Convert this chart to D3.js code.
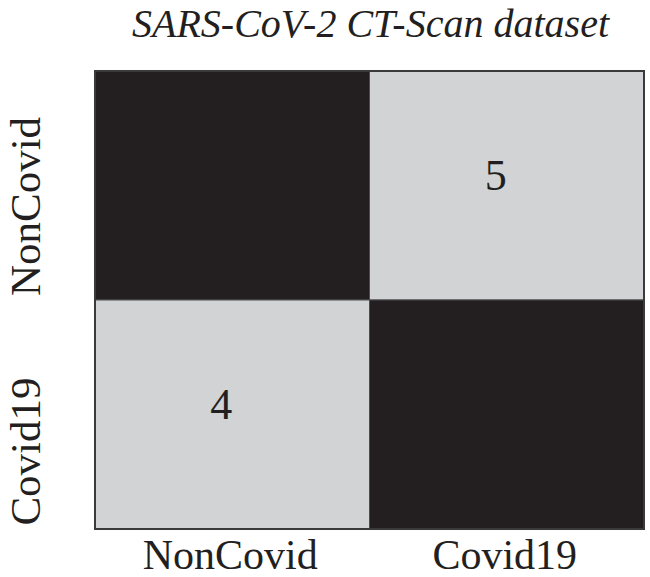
<!DOCTYPE html>
<html>
<head>
<meta charset="utf-8">
<script src="https://cdn.jsdelivr.net/npm/d3@7"></script>
<style>
    body { margin: 0; background: #fff; }
</style>
</head>
<body>
<div id="wrapper"></div>
<script>
    // data
    const classes = ["NonCovid", "Covid19"]
    const actual = ["NonCovid", "NonCovid", "Covid19", "Covid19"]
    const predicted = ["NonCovid", "Covid19", "NonCovid", "Covid19"]
    const counts = [241, 5, 4, 247]
    const title = "SARS-CoV-2 CT-Scan dataset"

    const cells = counts.map((c, i) => ({ actual: actual[i], predicted: predicted[i], count: c }))

    const font = "'Liberation Serif', 'Times New Roman', Times, serif"

    // chart dimensions
    let dimensions = {
        width: 650,
        height: 577,
        margin: { top: 71, right: 6, bottom: 48, left: 95 }
    }
    dimensions.boundedWidth = dimensions.width - dimensions.margin.left - dimensions.margin.right
    dimensions.boundedHeight = dimensions.height - dimensions.margin.top - dimensions.margin.bottom

    const svg = d3.select("#wrapper")
        .append("svg")
        .attr("width", dimensions.width)
        .attr("height", dimensions.height)
        .attr("font-family", font)

    const bounds = svg.append("g")
        .attr("transform", `translate(${dimensions.margin.left},${dimensions.margin.top})`)

    // scales
    const xScale = d3.scaleBand()
        .domain(classes)
        .range([0, dimensions.boundedWidth])

    const yScale = d3.scaleBand()
        .domain(classes)
        .range([0, dimensions.boundedHeight])

    const colorScale = d3.scaleQuantize()
        .domain([d3.min(counts), d3.max(counts)])
        .range(["#d1d3d4", "#231f20"])

    // cells
    bounds.selectAll("rect.cell")
        .data(cells)
        .enter().append("rect")
        .attr("class", "cell")
        .attr("x", d => xScale(d.predicted))
        .attr("y", d => yScale(d.actual))
        .attr("width", xScale.bandwidth())
        .attr("height", yScale.bandwidth())
        .attr("fill", d => colorScale(d.count))
        .attr("stroke", "#4d4d4f")
        .attr("stroke-width", 1)

    // counts (black text, so it disappears on the dark diagonal like the original)
    bounds.selectAll("text.value")
        .data(cells)
        .enter().append("text")
        .attr("class", "value")
        .attr("x", d => xScale(d.predicted) + xScale.bandwidth() / 2 - 11)
        .attr("y", d => yScale(d.actual) + yScale.bandwidth() / 2 - 10)
        .attr("text-anchor", "middle")
        .attr("dominant-baseline", "central")
        .attr("fill", "#231f20")
        .style("font-size", "44px")
        .text(d => d.count)

    // frame
    bounds.append("rect")
        .attr("width", dimensions.boundedWidth)
        .attr("height", dimensions.boundedHeight)
        .attr("fill", "none")
        .attr("stroke", "#3a3a3c")
        .attr("stroke-width", 2)

    // x labels
    bounds.selectAll("text.xlabel")
        .data(classes)
        .enter().append("text")
        .attr("class", "xlabel")
        .attr("x", d => xScale(d) + xScale.bandwidth() / 2 - 2)
        .attr("y", dimensions.boundedHeight + 40)
        .attr("text-anchor", "middle")
        .attr("fill", "#231f20")
        .style("font-size", "42px")
        .text(d => d)

    // y labels
    const yOffsets = [21, 37]
    bounds.selectAll("text.ylabel")
        .data(classes)
        .enter().append("text")
        .attr("class", "ylabel")
        .attr("transform", (d, i) =>
            `translate(${-55},${yScale(d) + yScale.bandwidth() / 2 + yOffsets[i]}) rotate(-90)`)
        .attr("text-anchor", "middle")
        .attr("fill", "#231f20")
        .style("font-size", "43px")
        .text(d => d)

    // title
    svg.append("text")
        .attr("x", dimensions.margin.left + dimensions.boundedWidth / 2 + 1)
        .attr("y", 37)
        .attr("text-anchor", "middle")
        .attr("fill", "#231f20")
        .style("font-size", "40px")
        .style("font-style", "italic")
        .text(title)
</script>
</body>
</html>
